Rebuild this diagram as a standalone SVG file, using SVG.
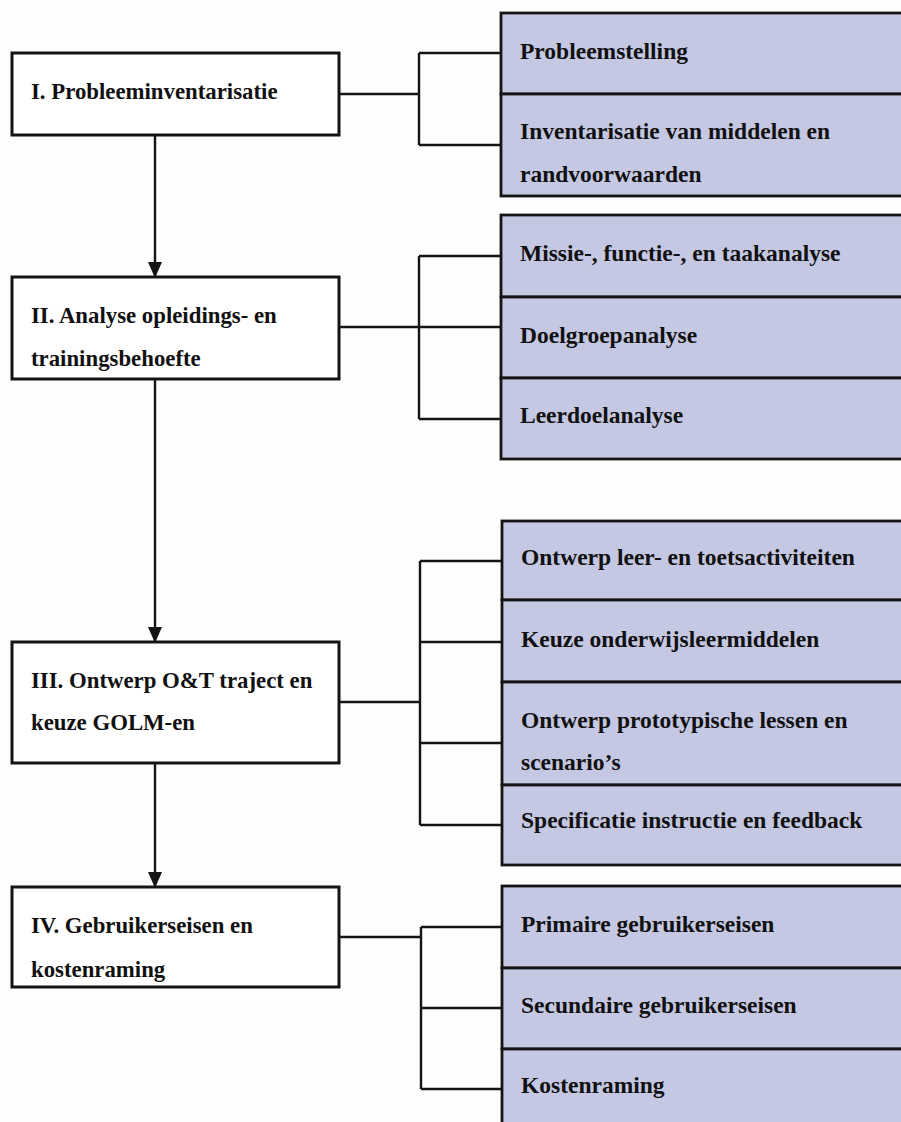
<svg xmlns="http://www.w3.org/2000/svg" width="901" height="1122" viewBox="0 0 901 1122">
<style>
.bg{fill:#fdfdfd}
.main{fill:#ffffff;stroke:#141414;stroke-width:3}
.sub{fill:#c5c8e2;stroke:#141414;stroke-width:2.8}
.t{font-family:"Liberation Serif","Times New Roman",serif;font-weight:bold;font-size:23.5px;fill:#111}
.tl{font-size:22.8px}
.c{fill:none;stroke:#141414;stroke-width:2.4}
</style>
<defs>
<marker id="arr" viewBox="0 0 16 14" refX="15" refY="7" markerWidth="16" markerHeight="14" markerUnits="userSpaceOnUse" orient="auto">
<path d="M0,0 L16,7 L0,14 Z" fill="#141414"/>
</marker>
</defs>
<rect class="bg" x="0" y="0" width="901" height="1122"/>

<g id="connectors">
<line class="c" x1="155" y1="136" x2="155" y2="277" marker-end="url(#arr)"/>
<line class="c" x1="155" y1="380" x2="155" y2="642" marker-end="url(#arr)"/>
<line class="c" x1="155" y1="764" x2="155" y2="887" marker-end="url(#arr)"/>
<path class="c" d="M339,94 H419 M419,53 V145 M419,53 H501 M419,145 H501"/>
<path class="c" d="M339,327 H501 M419,256 V419 M419,256 H501 M419,419 H501"/>
<path class="c" d="M339,702 H420 M420,561 V825 M420,561 H502 M420,642 H502 M420,743 H502 M420,825 H502"/>
<path class="c" d="M339,937 H421 M421,927 V1089 M421,927 H502 M421,1008 H502 M421,1089 H502"/>
</g>

<g id="node-I">
<rect class="main" x="12" y="53" width="327" height="82"/>
<text class="t tl" x="31" y="99">I. Probleeminventarisatie</text>
</g>
<g id="node-II">
<rect class="main" x="12" y="277" width="327" height="102"/>
<text class="t tl" x="31" y="323">II. Analyse opleidings- en</text>
<text class="t tl" x="31" y="366">trainingsbehoefte</text>
</g>
<g id="node-III">
<rect class="main" x="12" y="642" width="327" height="121"/>
<text class="t tl" x="31" y="688">III. Ontwerp O&amp;T traject en</text>
<text class="t tl" x="31" y="730">keuze GOLM-en</text>
</g>
<g id="node-IV">
<rect class="main" x="12" y="887" width="327" height="100"/>
<text class="t tl" x="31" y="933">IV. Gebruikerseisen en</text>
<text class="t tl" x="31" y="977">kostenraming</text>
</g>

<g id="sub-probleemstelling">
<rect class="sub" x="501" y="13" width="420" height="81"/>
<text class="t" x="520" y="59">Probleemstelling</text>
</g>
<g id="sub-inventarisatie">
<rect class="sub" x="501" y="94" width="420" height="102"/>
<text class="t" x="520" y="139">Inventarisatie van middelen en</text>
<text class="t" x="520" y="182">randvoorwaarden</text>
</g>

<g id="sub-missie">
<rect class="sub" x="501" y="215" width="420" height="82"/>
<text class="t" x="520" y="261">Missie-, functie-, en taakanalyse</text>
</g>
<g id="sub-doelgroep">
<rect class="sub" x="501" y="297" width="420" height="81"/>
<text class="t" x="520" y="343">Doelgroepanalyse</text>
</g>
<g id="sub-leerdoel">
<rect class="sub" x="501" y="378" width="420" height="81"/>
<text class="t" x="520" y="423">Leerdoelanalyse</text>
</g>

<g id="sub-ontwerp-leer">
<rect class="sub" x="502" y="521" width="420" height="79"/>
<text class="t" x="521" y="565">Ontwerp leer- en toetsactiviteiten</text>
</g>
<g id="sub-keuze">
<rect class="sub" x="502" y="600" width="420" height="82"/>
<text class="t" x="521" y="647">Keuze onderwijsleermiddelen</text>
</g>
<g id="sub-prototypisch">
<rect class="sub" x="502" y="682" width="420" height="103"/>
<text class="t" x="521" y="728">Ontwerp prototypische lessen en</text>
<text class="t" x="521" y="770">scenario’s</text>
</g>
<g id="sub-specificatie">
<rect class="sub" x="502" y="785" width="420" height="80"/>
<text class="t" x="521" y="828">Specificatie instructie en feedback</text>
</g>

<g id="sub-primaire">
<rect class="sub" x="502" y="886" width="420" height="82"/>
<text class="t" x="521" y="932">Primaire gebruikerseisen</text>
</g>
<g id="sub-secundaire">
<rect class="sub" x="502" y="968" width="420" height="81"/>
<text class="t" x="521" y="1013">Secundaire gebruikerseisen</text>
</g>
<g id="sub-kosten">
<rect class="sub" x="502" y="1049" width="420" height="100"/>
<text class="t" x="521" y="1093">Kostenraming</text>
</g>
</svg>
